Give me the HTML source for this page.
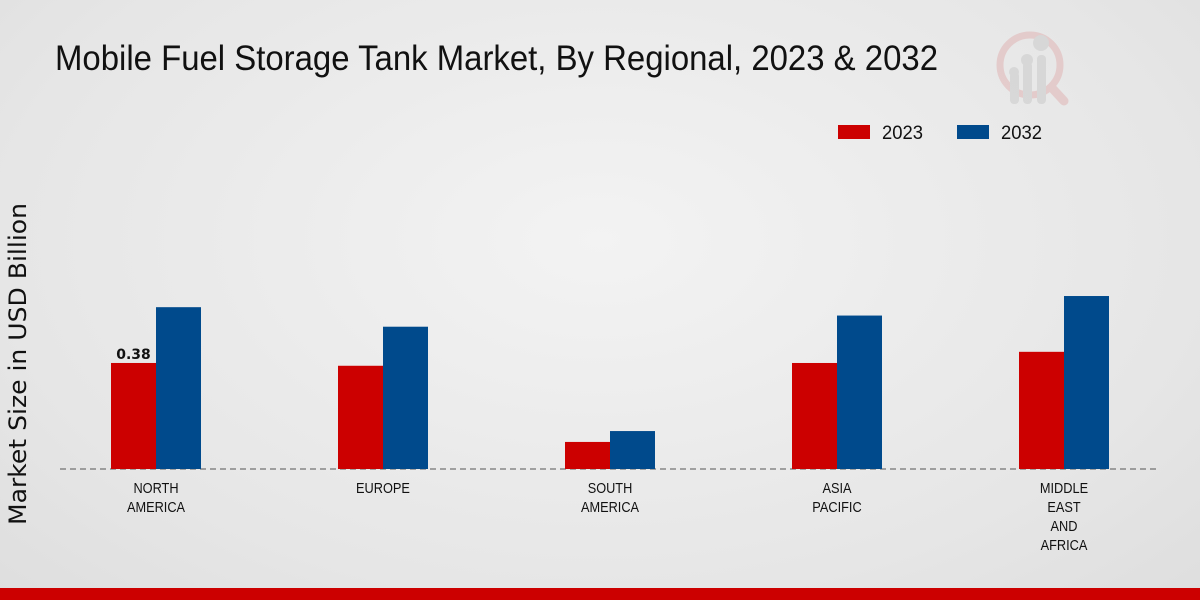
<!DOCTYPE html>
<html><head><meta charset="utf-8"><style>
body{margin:0;width:1200px;height:600px;overflow:hidden;font-family:"Liberation Sans Narrow","Liberation Sans",sans-serif;}
#bg{position:absolute;left:0;top:0;width:1200px;height:600px;background:radial-gradient(ellipse at 50% 40%,#f3f3f3 0%,#e6e6e6 70%,#dedede 100%);}
</style></head><body>
<div id="bg"></div>
<svg id="c" width="1200" height="600" style="position:absolute;left:0;top:0">
<text x="55" y="70" font-size="35" fill="#111" textLength="883" lengthAdjust="spacingAndGlyphs">Mobile Fuel Storage Tank Market, By Regional, 2023 &amp; 2032</text>
<g opacity="0.5">
<circle cx="1030" cy="65" r="30" fill="none" stroke="#e0b0b0" stroke-width="7"/>
<line x1="1052" y1="88" x2="1064" y2="101" stroke="#e0b0b0" stroke-width="9" stroke-linecap="round"/>
<rect x="1010" y="72" width="9" height="32" rx="4" fill="#c8c8c8"/><rect x="1023" y="62" width="9" height="42" rx="4" fill="#c8c8c8"/><rect x="1037" y="55" width="9" height="49" rx="4" fill="#c8c8c8"/>
<circle cx="1014" cy="72" r="5" fill="#c8c8c8"/><circle cx="1027" cy="60" r="6" fill="#c8c8c8"/><circle cx="1041" cy="43" r="8" fill="#c8c8c8"/>
</g>
<g>
<rect x="838" y="125" width="32" height="14" fill="#cc0000"/>
<text x="882" y="139" font-size="19" fill="#111" textLength="41" lengthAdjust="spacingAndGlyphs">2023</text>
<rect x="957" y="125" width="32" height="14" fill="#004a8c"/>
<text x="1001" y="139" font-size="19" fill="#111" textLength="41" lengthAdjust="spacingAndGlyphs">2032</text>
</g>
<text transform="translate(26,364) rotate(-90)" text-anchor="middle" font-size="24" fill="#111" font-family="DejaVu Sans, sans-serif" textLength="322" lengthAdjust="spacingAndGlyphs">Market Size in USD Billion</text>
<line x1="60" y1="469" x2="1160" y2="469" stroke="#555" stroke-dasharray="6,4"/>
<g id="bars"></g>
<rect x="0" y="588" width="1200" height="12" fill="#cc0000"/>
</svg>
<script>
const categories=[["NORTH","AMERICA"],["EUROPE"],["SOUTH","AMERICA"],["ASIA","PACIFIC"],["MIDDLE","EAST","AND","AFRICA"]];
const values2023=[0.38,0.37,0.097,0.38,0.42];
const values2032=[0.58,0.51,0.136,0.55,0.62];
const labels2023=["0.38","","","",""];
const ns="http://www.w3.org/2000/svg";
const g=document.getElementById("bars");
const base=469, k=279, x0=156, step=227, bw=45;
const y=v=>base-v*k;
function mk(t,a){const e=document.createElementNS(ns,t);for(const q in a)e.setAttribute(q,a[q]);g.appendChild(e);return e;}
categories.forEach((c,i)=>{
 const cx=x0+i*step;
 let r=mk("rect",{x:cx-bw,y:y(values2023[i]),width:bw,height:base-y(values2023[i]),fill:"#cc0000"});
 
 
 let b=mk("rect",{x:cx,y:y(values2032[i]),width:bw,height:base-y(values2032[i]),fill:"#004a8c"});
 
 
 if(labels2023[i]){let t=mk("text",{x:cx-bw/2,y:y(values2023[i])-4,"text-anchor":"middle","font-size":"14","font-weight":"bold","font-family":"DejaVu Sans, sans-serif",fill:"#111"});t.textContent=labels2023[i];
 
 }
 c.forEach((l,j)=>{let t=mk("text",{x:cx,y:493+j*19,"text-anchor":"middle","font-size":"15",fill:"#111"});t.textContent=l;
 
 
 const w=t.getComputedTextLength();t.setAttribute("textLength",(w*0.85).toFixed(1));t.setAttribute("lengthAdjust","spacingAndGlyphs");});
});
</script>
</body></html>
